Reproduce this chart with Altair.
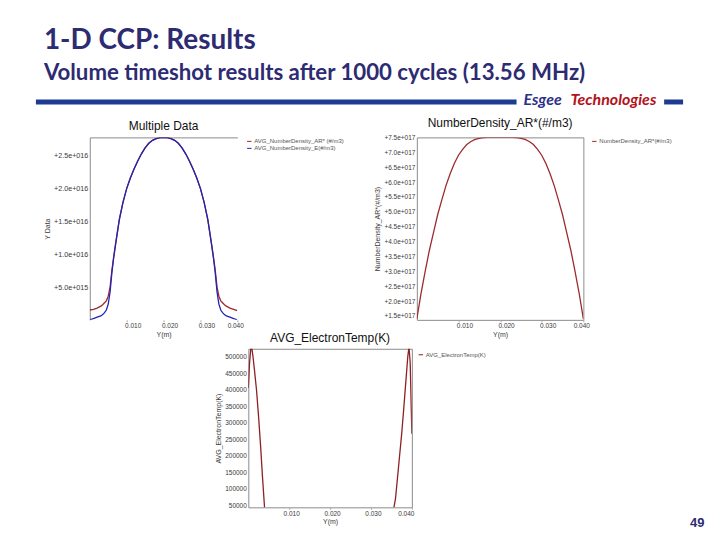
import altair as alt
import pandas as pd

# ---------------- text ----------------
TITLE = "1-D CCP: Results"
SUBTITLE = "Volume timeshot results after 1000 cycles (13.56 MHz)"
BRAND_A = "Esgee"
BRAND_B = "Technologies"
PAGE_NO = "49"

C1_TITLE = "Multiple Data"
C1_YTITLE = "Y Data"
C2_TITLE = "NumberDensity_AR*(#/m3)"
C3_TITLE = "AVG_ElectronTemp(K)"
X_TITLE = "Y(m)"

AR1_NAME = "AVG_NumberDensity_AR* (#/m3)"
E1_NAME = "AVG_NumberDensity_E(#/m3)"
AR2_NAME = "NumberDensity_AR*(#/m3)"
TE_NAME = "AVG_ElectronTemp(K)"

# ---------------- ticks ----------------
X_TICKS = [0.01, 0.02, 0.03, 0.04]
Y1_TICKS = [5e15, 1e16, 1.5e16, 2e16, 2.5e16]
Y1_LABELS = ["+5.0e+015", "+1.0e+016", "+1.5e+016", "+2.0e+016", "+2.5e+016"]
Y2_TICKS = [1.5e17, 2e17, 2.5e17, 3e17, 3.5e17, 4e17, 4.5e17, 5e17, 5.5e17, 6e17, 6.5e17, 7e17, 7.5e17]
Y2_LABELS = ["+1.5e+017", "+2.0e+017", "+2.5e+017", "+3.0e+017", "+3.5e+017", "+4.0e+017", "+4.5e+017",
             "+5.0e+017", "+5.5e+017", "+6.0e+017", "+6.5e+017", "+7.0e+017", "+7.5e+017"]
Y3_TICKS = [50000, 100000, 150000, 200000, 250000, 300000, 350000, 400000, 450000, 500000]

# ---------------- chart 1 data (densities in 1e16 /m3) ----------------
X1 = [0.0, 0.001, 0.002, 0.003, 0.0035, 0.004, 0.0045, 0.005, 0.0055, 0.006, 0.0065, 0.007,
      0.008, 0.009, 0.010, 0.011, 0.012, 0.013, 0.014, 0.015, 0.016, 0.017, 0.018, 0.019, 0.020,
      0.021, 0.022, 0.023, 0.024, 0.025, 0.026, 0.027, 0.028, 0.029, 0.030, 0.031, 0.032,
      0.033, 0.0335, 0.034, 0.0345, 0.035, 0.0355, 0.036, 0.0365, 0.037, 0.038, 0.039, 0.040]
E1 = [0.00, 0.02, 0.04, 0.06, 0.08, 0.11, 0.15, 0.24, 0.42, 0.72, 0.95, 1.15,
      1.52, 1.79, 2.00, 2.16, 2.30, 2.42, 2.53, 2.62, 2.69, 2.735, 2.76, 2.775, 2.78,
      2.775, 2.76, 2.735, 2.69, 2.62, 2.53, 2.42, 2.30, 2.16, 2.00, 1.79, 1.52,
      1.15, 0.95, 0.72, 0.42, 0.24, 0.15, 0.11, 0.08, 0.06, 0.04, 0.02, 0.00]
AR1 = [0.15, 0.16, 0.18, 0.21, 0.23, 0.26, 0.29, 0.36, 0.50, 0.76, 0.97, 1.16,
       1.53, 1.79, 2.00, 2.16, 2.30, 2.42, 2.53, 2.62, 2.69, 2.735, 2.76, 2.775, 2.78,
       2.775, 2.76, 2.735, 2.69, 2.62, 2.53, 2.42, 2.30, 2.16, 2.00, 1.79, 1.53,
       1.16, 0.97, 0.76, 0.50, 0.36, 0.29, 0.26, 0.23, 0.21, 0.18, 0.16, 0.14]

# ---------------- chart 2 data (density in 1e17 /m3) ----------------
X2 = [0.000, 0.001, 0.002, 0.003, 0.004, 0.005, 0.006, 0.007, 0.008, 0.009, 0.010,
      0.011, 0.012, 0.013, 0.014, 0.015, 0.016, 0.017, 0.018, 0.019, 0.020,
      0.021, 0.022, 0.023, 0.024, 0.025, 0.026, 0.027, 0.028, 0.029, 0.030,
      0.031, 0.032, 0.033, 0.034, 0.035, 0.036, 0.037, 0.038, 0.039, 0.040]
AR2 = [1.40, 2.25, 3.00, 3.70, 4.30, 4.90, 5.40, 5.88, 6.28, 6.62, 6.90,
       7.10, 7.26, 7.36, 7.43, 7.47, 7.49, 7.50, 7.50, 7.50, 7.50,
       7.50, 7.50, 7.50, 7.49, 7.47, 7.43, 7.36, 7.26, 7.10, 6.90,
       6.62, 6.28, 5.88, 5.40, 4.90, 4.30, 3.70, 3.00, 2.25, 1.40]

# ---------------- chart 3 data (K) ----------------
X3 = [0.0000, 0.0003, 0.0006, 0.0008, 0.0011, 0.0015, 0.0020, 0.0025, 0.0030, 0.0035, 0.0040,
      0.0045, 0.0100, 0.0200, 0.0300, 0.0350, 0.0355, 0.0360, 0.0365, 0.0370, 0.0375, 0.0380,
      0.0385, 0.0390, 0.0393, 0.0396, 0.0400]
TE = [405000, 480000, 525000, 530000, 505000, 460000, 400000, 320000, 230000, 130000, 38000,
      35000, 35000, 35000, 35000, 35000, 36000, 70000, 135000, 200000, 265000, 340000,
      420000, 500000, 530000, 480000, 267000]

# ---------------- styles ----------------
FONT = "Liberation Sans"
HFONT = "Lato"
NAVY = "#2d2b72"
BAR = "#1f3a93"
BRAND_NAVY = "#2e3088"
BRAND_RED = "#b3121b"
RED = "#9c2b2e"
BLUE = "#2323b5"
TE_RED = "#8e1f22"
GREY = "#8c8c8c"
LAB = "#3a3a3a"


def lab_expr(ticks, labels):
    expr = "''"
    for t, l in reversed(list(zip(ticks, labels))):
        expr = f"abs(datum.value - {t!r}) < {abs(t) * 1e-6 + 1e-9!r} ? '{l}' : ({expr})"
    return expr


def y_axis(title, values, expr=None, fmt=None, domain=False, size=6.5):
    kw = dict(title=title, values=values, grid=False, ticks=False, labelPadding=2, titlePadding=3,
              domain=domain, domainColor=GREY, labelFont=FONT, labelFontSize=size, labelColor=LAB,
              titleFont=FONT, titleFontSize=7, titleFontWeight="normal", titleColor=LAB)
    if expr is not None:
        kw["labelExpr"] = expr
    if fmt is not None:
        kw["format"] = fmt
    return alt.Axis(**kw)


def x_axis(offset):
    return alt.Axis(title=X_TITLE, values=X_TICKS, format=".3f", grid=False, tickSize=2,
                    tickColor="#aaaaaa", domain=False, labelOffset=offset, labelPadding=1,
                    titlePadding=1, labelFont=FONT, labelFontSize=6.5, labelColor=LAB,
                    titleFont=FONT, titleFontSize=7, titleFontWeight="normal", titleColor=LAB)


def legend(lx, ly):
    return alt.Legend(orient="none", legendX=lx, legendY=ly, title=None, symbolType="stroke",
                      symbolSize=20, symbolStrokeWidth=1, labelFont=FONT, labelFontSize=6,
                      labelColor="#555555", labelLimit=300, padding=0, rowPadding=1, labelOffset=2)


def ctitle(text):
    return alt.TitleParams(text=text, font=FONT, fontSize=12, fontWeight="normal", color="#111111",
                           offset=4, anchor="middle")


def xscale():
    return alt.Scale(domain=[0, 0.04], nice=False, zero=False)


def spacer(w, h):
    return alt.Chart(pd.DataFrame({"s": [0]})).mark_point(opacity=0, size=1).encode(
        x=alt.value(2), y=alt.value(2)
    ).properties(width=w, height=h, view=alt.ViewBackground(stroke="transparent"))


def htext(txt, x, y, size, color, style="normal"):
    return alt.Chart(pd.DataFrame({"t": [txt]})).mark_text(
        align="left", baseline="alphabetic", font=HFONT, fontSize=size, fontWeight="bold",
        fontStyle=style, color=color
    ).encode(x=alt.value(x), y=alt.value(y), text="t:N")


def hbar(x1, x2, y1, y2, color):
    return alt.Chart(pd.DataFrame({"b": [0]})).mark_rect(color=color).encode(
        x=alt.value(x1), x2=alt.value(x2), y=alt.value(y1), y2=alt.value(y2)
    )


# ---------------- header ----------------
header = alt.layer(
    htext(TITLE, 35, 39, 28, NAVY),
    htext(SUBTITLE, 35, 70, 22.3, NAVY),
    hbar(27, 509, 90, 95, BAR),
    htext(BRAND_A, 516, 96, 16, BRAND_NAVY, "italic"),
    htext(BRAND_B, 563, 96, 16, BRAND_RED, "italic"),
    hbar(657, 676, 90, 95, BAR),
).properties(width=704, height=128, view=alt.ViewBackground(stroke="transparent"))

# ---------------- chart 1 ----------------
df1 = pd.DataFrame({
    "x": X1 + X1,
    "value": [v * 1e16 for v in AR1] + [v * 1e16 for v in E1],
    "series": [AR1_NAME] * len(X1) + [E1_NAME] * len(X1),
})
c1_line = alt.Chart(df1).mark_line(clip=True, strokeWidth=1.3).encode(
    x=alt.X("x:Q", scale=xscale(), axis=x_axis(6)),
    y=alt.Y("value:Q", scale=alt.Scale(domain=[0, 2.78e16], nice=False),
            axis=y_axis(C1_YTITLE, Y1_TICKS, expr=lab_expr(Y1_TICKS, Y1_LABELS), domain=True, size=7.2)),
    color=alt.Color("series:N", scale=alt.Scale(domain=[AR1_NAME, E1_NAME], range=[RED, BLUE]),
                    legend=legend(157, 1)),
)
c1_top = alt.Chart(df1).mark_point(opacity=0).encode(
    x=alt.X("x:Q", axis=alt.Axis(orient="top", labels=False, ticks=False, title=None, grid=False,
                                 domainColor=GREY))
)
c1 = alt.layer(c1_line, c1_top).resolve_axis(x="independent").properties(
    width=148, height=183, title=ctitle(C1_TITLE), view=alt.ViewBackground(stroke="transparent"))

# ---------------- chart 2 ----------------
df2 = pd.DataFrame({"x": X2, "value": [v * 1e17 for v in AR2], "series": [AR2_NAME] * len(X2)})
c2 = alt.Chart(df2).mark_line(clip=True, strokeWidth=1.3).encode(
    x=alt.X("x:Q", scale=xscale(), axis=x_axis(6)),
    y=alt.Y("value:Q", scale=alt.Scale(domain=[1.37e17, 7.5e17], nice=False, zero=False),
            axis=y_axis(C2_TITLE, Y2_TICKS, expr=lab_expr(Y2_TICKS, Y2_LABELS))),
    color=alt.Color("series:N", scale=alt.Scale(domain=[AR2_NAME], range=[RED]), legend=legend(175, 1)),
).properties(width=167, height=183, title=ctitle(C2_TITLE), view=alt.ViewBackground(stroke=GREY))

# ---------------- chart 3 ----------------
df3 = pd.DataFrame({"x": X3, "value": TE, "series": [TE_NAME] * len(X3)})
c3_line = alt.Chart(df3).mark_line(clip=True, strokeWidth=1.3).encode(
    x=alt.X("x:Q", scale=xscale(), axis=x_axis(2)),
    y=alt.Y("value:Q", scale=alt.Scale(domain=[44000, 524000], nice=False, zero=False),
            axis=y_axis(C3_TITLE, Y3_TICKS, fmt="d")),
    color=alt.Color("series:N", scale=alt.Scale(domain=[TE_NAME], range=[TE_RED]), legend=legend(170, 3)),
)
c3_page = alt.Chart(pd.DataFrame({"t": [PAGE_NO]})).mark_text(
    align="left", baseline="alphabetic", font=FONT, fontWeight="bold", fontSize=13, color=NAVY
).encode(x=alt.value(443), y=alt.value(179), text="t:N")
c3 = alt.layer(c3_line, c3_page).properties(
    width=164, height=159, title=ctitle(C3_TITLE), view=alt.ViewBackground(stroke=GREY))

# ---------------- layout ----------------
row1 = alt.hconcat(spacer(81, 183), c1, spacer(180, 183), c2, spacing=0, bounds="flush").resolve_scale(
    color="independent").resolve_legend(color="independent")
row2 = alt.hconcat(spacer(240, 159), c3, spacing=0, bounds="flush").resolve_scale(
    color="independent").resolve_legend(color="independent")

# with flush bounds a nested row adds no height of its own, so the gap spacer carries row 1's height
chart = alt.vconcat(header, row1, spacer(1, 212), row2, spacing=0, bounds="flush").resolve_scale(
    color="independent").resolve_legend(color="independent").properties(
    padding=0
).configure_view(stroke="transparent").configure(background="white")

chart.save("out.html", embed_options={"renderer": "svg", "actions": False})
